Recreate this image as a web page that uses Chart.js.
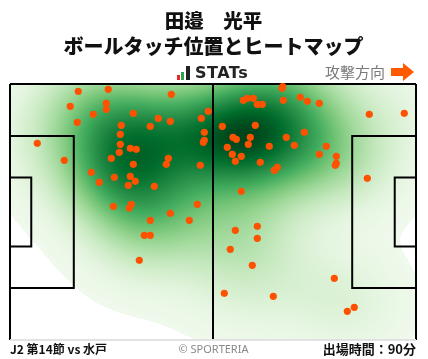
<!DOCTYPE html>
<html><head><meta charset="utf-8">
<script src="https://cdn.jsdelivr.net/npm/chart.js@4/dist/chart.umd.min.js"></script>
<style>
html,body{margin:0;padding:0;background:#fff;width:428px;height:359px;overflow:hidden;}
#wrap{position:relative;width:428px;height:359px;font-family:"Noto Sans CJK JP","Noto Sans",sans-serif;}
canvas{position:absolute;left:0;top:0;}
.t{position:absolute;white-space:nowrap;}
</style></head><body>
<div id="wrap">
<canvas id="c" width="428" height="359"></canvas>
<div class="t" style="left:0;width:427px;text-align:center;top:8px;line-height:24px;font-size:19.5px;font-weight:900;color:#111;">田邉　光平</div>
<div class="t" style="left:0;width:427px;text-align:center;top:34px;line-height:24px;font-size:20px;font-weight:900;color:#111;">ボールタッチ位置とヒートマップ</div>
<div class="t" style="left:177px;top:65px;width:80px;height:18px;">
  <div style="position:absolute;left:0;top:10px;width:3px;height:5px;background:#e8262a;"></div>
  <div style="position:absolute;left:4px;top:7px;width:3px;height:8px;background:#2ea44f;"></div>
  <div style="position:absolute;left:9px;top:1px;width:4px;height:14px;background:#222;"></div>
  <div style="position:absolute;left:18px;top:-2px;line-height:20px;font-size:16px;font-weight:700;color:#222;font-family:'DejaVu Sans',sans-serif;letter-spacing:0.5px;">STATs</div>
</div>
<div class="t" style="left:325px;top:61px;line-height:22px;font-size:15px;color:#7a7a7a;">攻撃方向</div>
<svg class="t" style="left:390px;top:62px;" width="26" height="20"><polygon points="1,6 13,6 13,1 24,10 13,19 13,14 1,14" fill="#ff5a00"/></svg>
<div class="t" style="left:10px;top:340px;line-height:18px;font-size:12px;font-weight:700;color:#111;">J2 第14節 vs 水戸</div>
<div class="t" style="left:0;width:427px;text-align:center;top:340px;line-height:18px;font-size:11px;color:#888;font-family:'Noto Sans',sans-serif;">© SPORTERIA</div>
<div class="t" style="right:12px;top:340px;line-height:18px;font-size:13px;font-weight:700;color:#111;">出場時間：90分</div>
</div>
<script>
// Ball touch positions (pitch metres: x 0-105 attacking right, y 0-68 from top)
const touchX = [17.66,25.42,41.72,15.59,24.90,24.90,21.54,31.89,51.28,17.41,38.35,41.46,49.47,28.78,36.28,28.53,50.25,49.99,50.25,7.06,28.53,31.11,32.66,28.27,26.20,14.04,40.94,40.42,31.89,49.22,21.03,31.11,26.97,32.40,23.09,30.59,37.32,26.72,31.37,30.85,48.44,41.46,36.28,46.37,34.73,36.28,33.44,
70.53,70.35,60.34,61.37,62.92,63.96,65.25,70.68,75.08,76.89,79.99,92.92,101.97,54.91,63.44,76.11,57.67,58.53,62.15,71.46,61.63,67.06,73.53,81.80,56.20,57.49,59.82,58.27,64.73,79.99,84.39,84.39,84.13,69.13,68.35,92.41,59.82,58.27,63.96,63.96,56.97,62.66,55.42,68.10,83.87,89.04,87.24];
const touchY = [1.94,1.41,2.74,5.92,5.13,6.72,8.05,7.78,7.25,10.17,9.11,9.91,9.11,10.97,11.24,13.36,12.83,15.49,14.95,15.75,16.02,17.08,17.35,18.14,19.74,20.27,19.74,21.33,21.33,21.60,23.45,24.52,24.78,25.85,26.11,26.91,27.17,32.49,31.96,32.94,31.96,34.35,36.21,36.21,40.19,40.19,46.83,
0.72,1.14,4.33,3.80,3.80,5.39,5.39,4.33,3.53,4.60,5.13,8.05,7.78,11.24,10.97,12.83,14.16,14.69,14.16,14.16,16.02,16.55,16.28,16.55,16.81,18.67,19.21,20.53,20.80,18.67,19.21,21.06,21.60,22.13,22.92,25.05,28.50,38.86,37.80,40.99,43.91,48.16,55.60,56.39,51.61,59.31,60.37];

const pitchLength = 105, pitchWidth = 68;

const GREENS = [[0,247,252,245],[0.125,229,245,224],[0.25,199,233,192],[0.375,161,217,155],[0.5,116,196,118],[0.625,65,171,93],[0.75,35,139,69],[0.875,0,109,44],[1,0,68,27]];
function greens(t){
  t=Math.max(0,Math.min(1,t));
  for(let i=1;i<GREENS.length;i++){
    if(t<=GREENS[i][0]){
      const a=GREENS[i-1],b=GREENS[i],f=(t-a[0])/(b[0]-a[0]);
      return [a[1]+(b[1]-a[1])*f,a[2]+(b[2]-a[2])*f,a[3]+(b[3]-a[3])*f];
    }
  }
  return GREENS[GREENS.length-1].slice(1);
}

const heatPlugin = {
  id:'heat',
  beforeDatasetsDraw(chart){
    const {ctx, chartArea:a, scales:{x,y}} = chart;
    const w=Math.round(a.right-a.left), h=Math.round(a.bottom-a.top);
    if(!chart._heat){
      const bx=10.5, by=9.0;
      const dens=new Float32Array(w*h);
      let mx=0;
      for(let j=0;j<h;j++){
        const vy=y.getValueForPixel(a.top+j+0.5);
        for(let i=0;i<w;i++){
          const vx=x.getValueForPixel(a.left+i+0.5);
          let s=0;
          for(let k=0;k<touchX.length;k++){
            const dx=(vx-touchX[k])/bx, dy=(vy-touchY[k])/by;
            s+=Math.exp(-0.5*(dx*dx+dy*dy));
          }
          dens[j*w+i]=s; if(s>mx)mx=s;
        }
      }
      const off=document.createElement('canvas'); off.width=w; off.height=h;
      const octx=off.getContext('2d'); const img=octx.createImageData(w,h);
      for(let p=0;p<w*h;p++){
        const t=dens[p]/mx;
        if(t<0.022){img.data[p*4+3]=0;continue;}
        const c=greens(0.03+t*0.97);
        img.data[p*4]=c[0];img.data[p*4+1]=c[1];img.data[p*4+2]=c[2];img.data[p*4+3]=255;
      }
      octx.putImageData(img,0,0);
      chart._heat=off;
    }
    ctx.save();
    ctx.drawImage(chart._heat,a.left,a.top);
    // pitch lines
    const px=v=>x.getPixelForValue(v), py=v=>y.getPixelForValue(v);
    ctx.lineWidth=2; ctx.strokeStyle='#000';
    const line=(x1,y1,x2,y2)=>{ctx.beginPath();ctx.moveTo(px(x1),py(y1));ctx.lineTo(px(x2),py(y2));ctx.stroke();};
    const rect=(x1,y1,x2,y2)=>{ctx.beginPath();ctx.rect(px(x1),py(y1),px(x2)-px(x1),py(y2)-py(y1));ctx.stroke();};
    line(0,0,pitchLength,0); line(0,0,0,pitchWidth); line(pitchLength,0,pitchLength,pitchWidth);
    line(pitchLength/2,0,pitchLength/2,pitchWidth);
    rect(0,34-20.16,16.5,34+20.16); rect(0,34-9.16,5.5,34+9.16);
    rect(pitchLength-16.5,34-20.16,pitchLength,34+20.16); rect(pitchLength-5.5,34-9.16,pitchLength,34+9.16);
    ctx.strokeStyle='#e2e2e2'; line(0,pitchWidth,pitchLength,pitchWidth);
    ctx.restore();
  }
};

new Chart(document.getElementById('c'),{
  type:'scatter',
  data:{datasets:[{
    data:touchX.map((v,i)=>({x:v,y:touchY[i]})),
    backgroundColor:'#ff5200',borderWidth:0,pointRadius:3.6,pointHoverRadius:3.6,clip:false
  }]},
  options:{
    responsive:false,animation:false,events:[],
    layout:{padding:{left:10,right:12,top:84,bottom:19}},
    plugins:{legend:{display:false},tooltip:{enabled:false},title:{display:false}},
    scales:{
      x:{type:'linear',min:0,max:pitchLength,display:false},
      y:{type:'linear',min:0,max:pitchWidth,reverse:true,display:false}
    }
  },
  plugins:[heatPlugin]
});
</script>
</body></html>
